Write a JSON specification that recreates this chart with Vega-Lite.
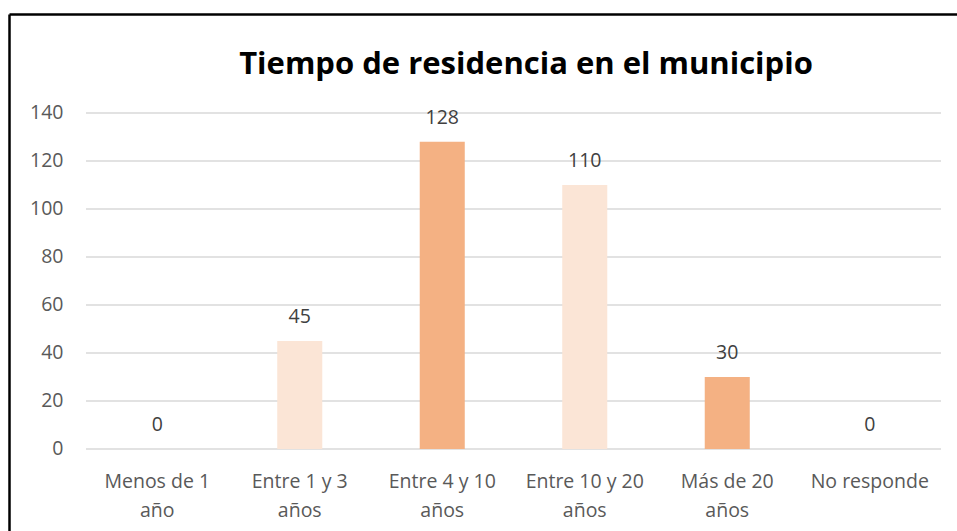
{
  "$schema": "https://vega.github.io/schema/vega-lite/v6.json",
  "width": 948,
  "height": 517,
  "autosize": {"type": "none"},
  "padding": {"left": 9, "top": 14, "right": 0, "bottom": 0},
  "background": "#FFFFFF",
  "config": {
    "view": {"stroke": null},
    "font": "Open Sans",
    "axis": {"labelFont": "Open Sans", "labelColor": "#595959", "labelFontSize": 19.5, "title": null}
  },
  "title": {
    "text": "Tiempo de residencia en el municipio",
    "anchor": "middle",
    "frame": "group",
    "offset": -91,
    "dx": 43,
    "font": "Open Sans",
    "fontSize": 31,
    "fontWeight": "bold",
    "color": "#000000",
    "baseline": "alphabetic"
  },
  "datasets": {
    "residencia": [
      {"categoria": "Menos de 1 año", "personas": 0},
      {"categoria": "Entre 1 y 3 años", "personas": 45},
      {"categoria": "Entre 4 y 10 años", "personas": 128},
      {"categoria": "Entre 10 y 20 años", "personas": 110},
      {"categoria": "Más de 20 años", "personas": 30},
      {"categoria": "No responde", "personas": 0}
    ],
    "cuadricula": [
      {"valor": 0}, {"valor": 20}, {"valor": 40}, {"valor": 60},
      {"valor": 80}, {"valor": 100}, {"valor": 120}, {"valor": 140}
    ]
  },
  "layer": [
    {
      "data": {"name": "cuadricula"},
      "mark": {"type": "rule", "color": "#D9D9D9", "strokeWidth": 1.5},
      "encoding": {
        "x": {
          "datum": "Menos de 1 año",
          "type": "nominal",
          "bandPosition": 0,
          "scale": {
            "domain": ["Menos de 1 año", "Entre 1 y 3 años", "Entre 4 y 10 años", "Entre 10 y 20 años", "Más de 20 años", "No responde"],
            "paddingInner": 0,
            "paddingOuter": 0.3263,
            "align": 0.828
          },
          "axis": null
        },
        "x2": {"datum": "No responde", "bandPosition": 1},
        "y": {
          "field": "valor",
          "type": "quantitative",
          "scale": {"domain": [-34.1667, 181.25], "nice": false, "zero": false},
          "axis": {
            "orient": "left",
            "values": [0, 20, 40, 60, 80, 100, 120, 140],
            "grid": false,
            "ticks": false,
            "tickSize": 0,
            "domain": true,
            "domainColor": "#000000",
            "domainWidth": 2.5,
            "labelAlign": "right",
            "labelPadding": -54
          }
        }
      }
    },
    {
      "data": {"name": "residencia"},
      "mark": {"type": "bar", "width": {"band": 0.316}},
      "encoding": {
        "x": {
          "field": "categoria",
          "type": "nominal",
          "sort": null,
          "scale": {
            "domain": ["Menos de 1 año", "Entre 1 y 3 años", "Entre 4 y 10 años", "Entre 10 y 20 años", "Más de 20 años", "No responde"],
            "paddingInner": 0,
            "paddingOuter": 0.3263,
            "align": 0.828
          },
          "axis": {
            "orient": "bottom",
            "domain": false,
            "ticks": false,
            "tickSize": 0,
            "grid": false,
            "labelAngle": 0,
            "labelBaseline": "alphabetic",
            "labelPadding": -44,
            "labelLineHeight": 29,
            "labelExpr": "datum.value == 'No responde' ? datum.value : [substring(datum.value, 0, lastindexof(datum.value, ' ')), substring(datum.value, lastindexof(datum.value, ' ') + 1)]"
          }
        },
        "y": {
          "field": "personas",
          "type": "quantitative",
          "scale": {"domain": [-34.1667, 181.25], "nice": false, "zero": false},
          "axis": null
        },
        "color": {
          "field": "categoria",
          "type": "nominal",
          "scale": {
            "domain": ["Menos de 1 año", "Entre 1 y 3 años", "Entre 4 y 10 años", "Entre 10 y 20 años", "Más de 20 años", "No responde"],
            "range": ["#F4B183", "#FBE5D6", "#F4B183", "#FBE5D6", "#F4B183", "#FBE5D6"]
          },
          "legend": null
        }
      }
    },
    {
      "data": {"name": "residencia"},
      "mark": {"type": "text", "font": "Open Sans", "fontSize": 19.5, "color": "#404040", "baseline": "alphabetic", "dy": -18},
      "encoding": {
        "x": {
          "field": "categoria",
          "type": "nominal",
          "sort": null,
          "scale": {
            "domain": ["Menos de 1 año", "Entre 1 y 3 años", "Entre 4 y 10 años", "Entre 10 y 20 años", "Más de 20 años", "No responde"],
            "paddingInner": 0,
            "paddingOuter": 0.3263,
            "align": 0.828
          },
          "axis": {
            "orient": "top",
            "domain": true,
            "domainColor": "#000000",
            "domainWidth": 2.5,
            "ticks": false,
            "tickSize": 0,
            "labels": false,
            "grid": false
          }
        },
        "y": {
          "field": "personas",
          "type": "quantitative",
          "scale": {"domain": [-34.1667, 181.25], "nice": false, "zero": false},
          "axis": null
        },
        "text": {"field": "personas", "type": "quantitative"}
      }
    }
  ],
  "resolve": {"axis": {"x": "independent", "y": "independent"}}
}
